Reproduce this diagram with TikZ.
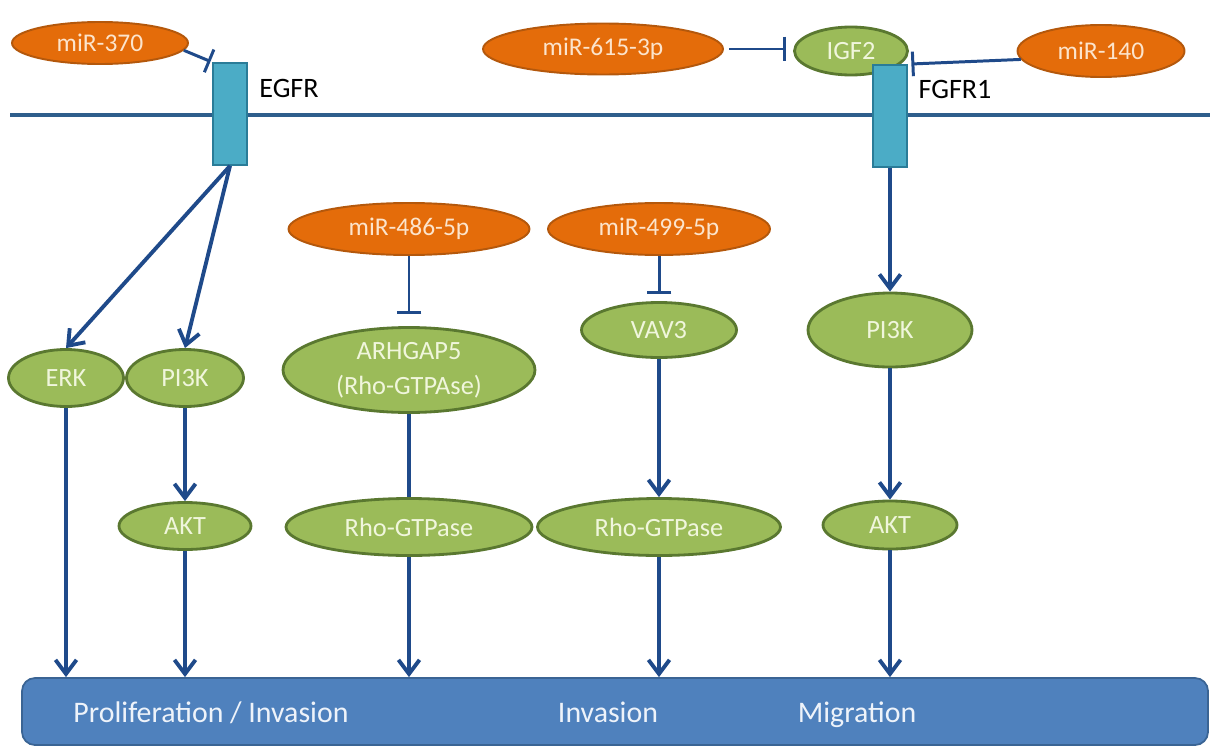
\documentclass[tikz,border=0pt]{standalone}
\usepackage{fontspec}
\setmainfont{Carlito}
\usepackage{tikz}
\usetikzlibrary{shapes, arrows.meta, positioning, calc}
\definecolor{mirfill}{HTML}{E46C0A}
\definecolor{mirline}{HTML}{B4580C}
\definecolor{mirtext}{HTML}{FCE4CC}
\definecolor{genefill}{HTML}{9BBB59}
\definecolor{geneline}{HTML}{5A7830}
\definecolor{genetext}{HTML}{F0F6DC}
\definecolor{arrblue}{HTML}{1F4A8A}
\definecolor{membrane}{HTML}{2E5E8C}
\definecolor{recfill}{HTML}{4BACC6}
\definecolor{recline}{HTML}{2A7C98}
\definecolor{boxfill}{HTML}{4F81BD}
\definecolor{boxline}{HTML}{3A6494}
\definecolor{boxtext}{HTML}{EEF3FA}

\begin{document}
\begin{tikzpicture}[x=0.02cm, y=-0.02cm,
		sz/.style 2 args={minimum width=#1*0.02cm, minimum height=#2*0.02cm},
		mir/.style={ellipse, fill=mirfill, draw=mirline, line width=1.1pt, inner sep=0pt, text=mirtext, font=\fontsize{14.5}{17}\selectfont},
		gene/.style={ellipse, fill=genefill, draw=geneline, line width=1.6pt, inner sep=0pt, text=genetext, align=center, font=\fontsize{15}{20}\selectfont},
		rec/.style={rectangle, fill=recfill, draw=recline, line width=1pt, minimum width=0.68cm, minimum height=2.04cm, inner sep=0pt},
		lab/.style={inner sep=0pt, font=\fontsize{16}{18}\selectfont},
		outbox/.style={rectangle, rounded corners=0.26cm, fill=boxfill, draw=boxline, line width=1pt},
		outtext/.style={inner sep=0pt, anchor=base, text=boxtext, font=\fontsize{17}{20}\selectfont},
		act/.style={draw=arrblue, line width=2.2pt, -{Straight Barb[length=8pt, width=12pt]}},
		inh/.style={draw=arrblue, line width=1.7pt, -{Bar[width=14pt]}},
		link/.style={draw=arrblue, line width=2.2pt}]
		\useasboundingbox (0,0) rectangle (1210,747);

		\draw [membrane, line width=1.8pt] (10,115) -- (1210,115);

		\node[mir, sz={176}{42}] (m370) at (100,43) {miR-370};
		\node[mir, sz={240}{51}] (m615) at (603,49) {miR-615-3p};
		\node[gene, sz={113}{48}] (igf2) at (851,51) {IGF2};
		\node[mir, sz={167}{52}] (m140) at (1101,51) {miR-140};
		\node[rec] (egfr) at (230,114) {};
		\node[rec] (fgfr) at (890,116) {};
		\node[lab] (egfrlab) at (289,88) {EGFR};
		\node[lab] (fgfrlab) at (955,89) {FGFR1};

		\node[mir, sz={241}{52}] (m486) at (409,229) {miR-486-5p};
		\node[mir, sz={222}{52}] (m499) at (659,229) {miR-499-5p};
		\node[gene, sz={115}{57}] (erk) at (66,378) {ERK};
		\node[gene, sz={117}{57}] (pia) at (185,378) {PI3K};
		\node[gene, sz={132}{47}] (akta) at (185,526) {AKT};
		\node[gene, sz={252}{85}] (arh) at (409,370) {ARHGAP5\\(Rho-GTPAse)};
		\node[gene, sz={246}{57}] (rhoa) at (409,527) {Rho-GTPase};
		\node[gene, sz={155}{55}] (vav) at (659,330) {VAV3};
		\node[gene, sz={243}{57}] (rhob) at (659,527) {Rho-GTPase};
		\node[gene, sz={164}{74}] (pib) at (890,330) {PI3K};
		\node[gene, sz={134}{48}] (aktb) at (890,525) {AKT};

		\node[outbox, sz={1186}{67}] (out) at (615,711.5) {};
		\node[outtext] (prolif) at (211,722) {Proliferation / Invasion};
		\node[outtext] (invas) at (608,722) {Invasion};
		\node[outtext] (migr) at (857,722) {Migration};

		\draw[inh, shorten >=1pt] (m370.-5) -- (egfr.north west);
		\draw[inh, shorten <=3pt, shorten >=4pt] (m615.east) -- (m615.east -| igf2.west);
		\draw[inh, shorten >=2pt] (m140.186) -- (fgfr.north east);
		\draw[inh, shorten >=7pt] (m486) -- (arh);
		\draw[inh, shorten >=4pt] (m499) -- (vav);

		\draw[act] (egfr.south) -- (erk.north);
		\draw[act] (egfr.south) -- (pia.north);
		\draw[act] (fgfr.south) -- (pib.north);
		\draw[act] (pia) -- (akta);
		\draw[act] (pib) -- (aktb);
		\draw[act] (vav) -- (rhob);
		\draw[link] (arh) -- (rhoa);

		\draw[act] (erk) -- (erk |- out.north);
		\draw[act] (akta) -- (akta |- out.north);
		\draw[act] (rhoa) -- (rhoa |- out.north);
		\draw[act] (rhob) -- (rhob |- out.north);
		\draw[act] (aktb) -- (aktb |- out.north);
	\end{tikzpicture}
\end{document}
